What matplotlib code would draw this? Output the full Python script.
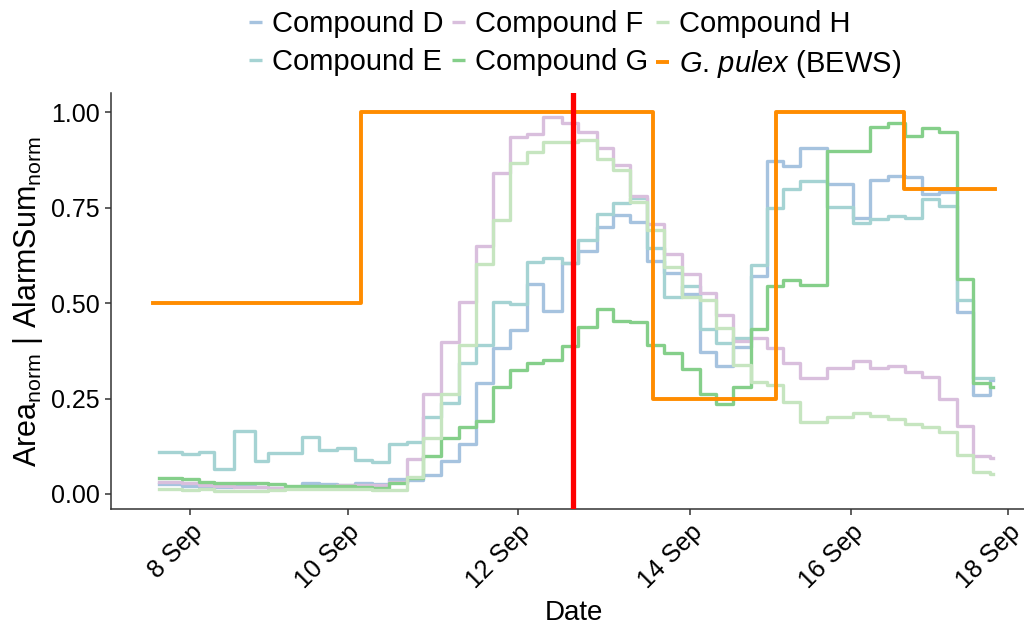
import numpy as np
import matplotlib
matplotlib.use("Agg")
import matplotlib.pyplot as plt

plt.rcParams["font.family"] = ["Liberation Sans", "DejaVu Sans"]
plt.rcParams["mathtext.fontset"] = "custom"
plt.rcParams["mathtext.rm"] = "Liberation Sans"
plt.rcParams["mathtext.it"] = "Liberation Sans:italic"

# sample edges, in days of September
edges = [7.617, 7.899, 8.106, 8.290, 8.534, 8.791, 8.950, 9.158, 9.366, 9.573,
         9.793, 10.013, 10.221, 10.429, 10.649, 10.845, 11.065, 11.285, 11.493, 11.700,
         11.908, 12.116, 12.312, 12.544, 12.740, 12.972, 13.167, 13.375, 13.583, 13.791,
         14.011, 14.231, 14.427, 14.634, 14.855, 15.050, 15.246, 15.453, 15.784, 16.101,
         16.309, 16.529, 16.737, 16.945, 17.153, 17.373, 17.569, 17.776, 17.813]

comp_d = [0.025, 0.022, 0.019, 0.019, 0.021, 0.019, 0.017, 0.017, 0.028, 0.025,
          0.024, 0.028, 0.025, 0.038, 0.037, 0.050, 0.086, 0.130, 0.290, 0.382,
          0.430, 0.550, 0.480, 0.604, 0.637, 0.699, 0.731, 0.713, 0.611, 0.580,
          0.524, 0.371, 0.336, 0.384, 0.571, 0.872, 0.859, 0.906, 0.811, 0.722,
          0.823, 0.833, 0.831, 0.786, 0.792, 0.478, 0.259, 0.299]
comp_e = [0.109, 0.104, 0.111, 0.065, 0.165, 0.087, 0.107, 0.108, 0.150, 0.115,
          0.121, 0.089, 0.085, 0.131, 0.135, 0.201, 0.238, 0.342, 0.390, 0.504,
          0.498, 0.607, 0.619, 0.604, 0.665, 0.734, 0.762, 0.775, 0.645, 0.517,
          0.546, 0.431, 0.395, 0.410, 0.600, 0.748, 0.798, 0.821, 0.753, 0.709,
          0.720, 0.728, 0.724, 0.773, 0.755, 0.508, 0.303, 0.303]
comp_f = [0.031, 0.028, 0.024, 0.022, 0.019, 0.019, 0.017, 0.015, 0.018, 0.022,
          0.024, 0.024, 0.024, 0.032, 0.091, 0.262, 0.397, 0.502, 0.651, 0.842,
          0.934, 0.943, 0.987, 0.971, 0.948, 0.906, 0.862, 0.781, 0.707, 0.629,
          0.576, 0.526, 0.469, 0.400, 0.408, 0.383, 0.342, 0.303, 0.331, 0.348,
          0.329, 0.336, 0.320, 0.307, 0.248, 0.179, 0.100, 0.095]
comp_g = [0.043, 0.038, 0.032, 0.028, 0.030, 0.028, 0.026, 0.022, 0.022, 0.021,
          0.020, 0.019, 0.016, 0.028, 0.041, 0.100, 0.146, 0.175, 0.192, 0.280,
          0.325, 0.342, 0.351, 0.389, 0.438, 0.484, 0.453, 0.451, 0.390, 0.369,
          0.327, 0.262, 0.236, 0.280, 0.432, 0.544, 0.561, 0.548, 0.899, 0.899,
          0.962, 0.971, 0.939, 0.958, 0.948, 0.563, 0.292, 0.280]
comp_h = [0.013, 0.011, 0.013, 0.009, 0.009, 0.009, 0.011, 0.012, 0.013, 0.014,
          0.014, 0.013, 0.010, 0.010, 0.045, 0.146, 0.262, 0.390, 0.602, 0.718,
          0.868, 0.897, 0.921, 0.923, 0.927, 0.877, 0.849, 0.766, 0.692, 0.596,
          0.517, 0.508, 0.434, 0.338, 0.294, 0.286, 0.242, 0.189, 0.201, 0.211,
          0.204, 0.196, 0.183, 0.175, 0.163, 0.102, 0.057, 0.052]

bews_edges = [7.548, 10.087, 13.660, 15.157, 16.725, 17.837]
bews_vals = [0.5, 1.0, 0.25, 1.0, 0.8]

event_day = 12.679

tick_pos = [8.0, 9.924, 12.010, 14.109, 16.073, 18.0]
tick_labels = ["8 Sep", "10 Sep", "12 Sep", "14 Sep", "16 Sep", "18 Sep"]

series = [("Compound D", comp_d, "#a6c3df"),
          ("Compound E", comp_e, "#a5d3d3"),
          ("Compound F", comp_f, "#d9bfdd"),
          ("Compound G", comp_g, "#85cf8a"),
          ("Compound H", comp_h, "#c6e5c0")]

fig = plt.figure(figsize=(10.24, 6.25), dpi=100)
ax = fig.add_axes([111 / 1024, 116 / 625, 926 / 1024, 415.7 / 625])

for name, vals, col in series:
    ax.step(edges, np.append(vals, vals[-1]), where="post", color=col, lw=2.4, label=name)

# mathtext puts extra space after "." so keep the period outside the math
ax.step(bews_edges, np.append(bews_vals, bews_vals[-1]), where="post",
        color="#ff8c00", lw=2.8, label=r"$\it{G}$. $\it{pulex}$ (BEWS)")
ax.axvline(event_day, color="#ff0000", lw=3.8, zorder=5)

ax.set_xlim(7.031, 18.351)
ax.set_ylim(-0.0393, 1.0498)
ax.set_yticks([0, 0.25, 0.5, 0.75, 1.0])
ax.set_yticklabels(["0.00", "0.25", "0.50", "0.75", "1.00"])
ax.set_xticks(tick_pos)
ax.set_xticklabels(tick_labels, rotation=45, ha="right", va="top", rotation_mode="anchor")

for s in ["top", "right"]:
    ax.spines[s].set_visible(False)
for s in ["left", "bottom"]:
    ax.spines[s].set_color("#333333")
    ax.spines[s].set_linewidth(1.1)
ax.tick_params(colors="#333333", labelcolor="black", length=4, width=1.1, labelsize=18, pad=4)

ax.set_xlabel("Date", fontsize=20, labelpad=5)
ax.set_ylabel(r"Area$_{\mathrm{norm}}$ | AlarmSum$_{\mathrm{norm}}$", fontsize=22, labelpad=4)

leg = fig.legend(loc="center", bbox_to_anchor=(575 / 1024, 1 - 45 / 625), ncol=3, frameon=False,
                 fontsize=21, handlelength=0.45, handletextpad=0.35, columnspacing=0.26,
                 labelspacing=0.35)
for h in leg.get_lines():
    h.set_solid_capstyle("butt")

fig.savefig("out.png", dpi=100)
plt.close(fig)
